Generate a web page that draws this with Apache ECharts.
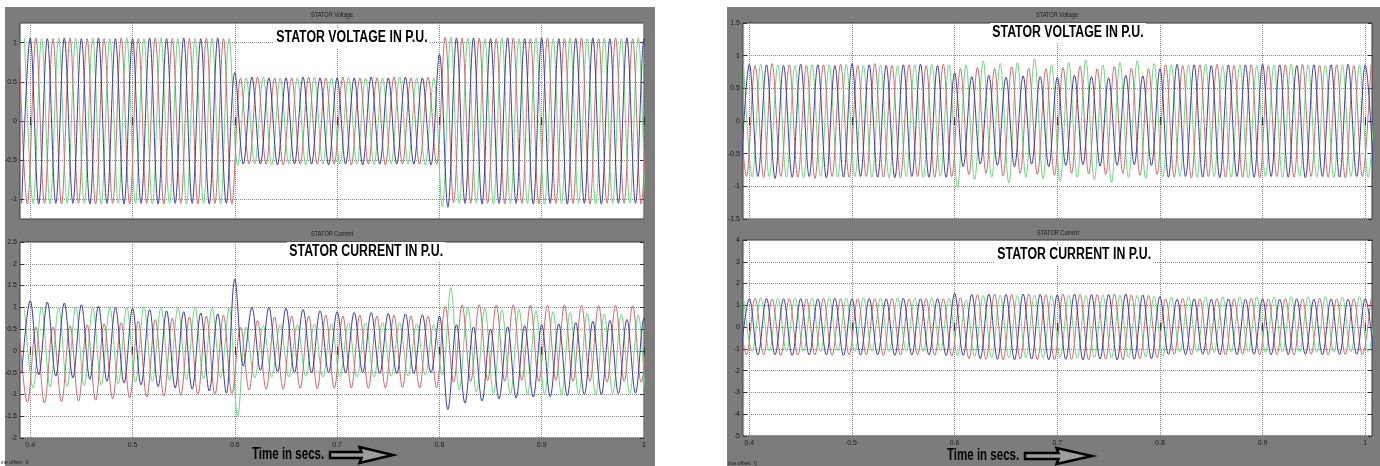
<!DOCTYPE html>
<html>
<head>
<meta charset="utf-8">
<title>Stator voltage and current</title>
<script src="https://cdn.jsdelivr.net/npm/echarts@6/dist/echarts.min.js"></script>
<style>
  html, body { margin: 0; padding: 0; background: #fff; }
  #main { width: 1380px; height: 466px; }
</style>
</head>
<body>
<div id="main"></div>
<script>
// instants (ms) of the successive phase peaks/troughs, 60 Hz scope trace
const tMs = [
  388.9, 391.7, 394.4, 397.2, 400.0, 402.8, 405.6, 408.3, 411.1,
  413.9, 416.7, 419.4, 422.2, 425.0, 427.8, 430.6, 433.3, 436.1,
  438.9, 441.7, 444.4, 447.2, 450.0, 452.8, 455.6, 458.3, 461.1,
  463.9, 466.7, 469.4, 472.2, 475.0, 477.8, 480.6, 483.3, 486.1,
  488.9, 491.7, 494.4, 497.2, 500.0, 502.8, 505.6, 508.3, 511.1,
  513.9, 516.7, 519.4, 522.2, 525.0, 527.8, 530.6, 533.3, 536.1,
  538.9, 541.7, 544.4, 547.2, 550.0, 552.8, 555.6, 558.3, 561.1,
  563.9, 566.7, 569.4, 572.2, 575.0, 577.8, 580.6, 583.3, 586.1,
  588.9, 591.7, 594.4, 597.2, 600.0, 602.8, 605.6, 608.3, 611.1,
  613.9, 616.7, 619.4, 622.2, 625.0, 627.8, 630.6, 633.3, 636.1,
  638.9, 641.7, 644.4, 647.2, 650.0, 652.8, 655.6, 658.3, 661.1,
  663.9, 666.7, 669.4, 672.2, 675.0, 677.8, 680.6, 683.3, 686.1,
  688.9, 691.7, 694.4, 697.2, 700.0, 702.8, 705.6, 708.3, 711.1,
  713.9, 716.7, 719.4, 722.2, 725.0, 727.8, 730.6, 733.3, 736.1,
  738.9, 741.7, 744.4, 747.2, 750.0, 752.8, 755.6, 758.3, 761.1,
  763.9, 766.7, 769.4, 772.2, 775.0, 777.8, 780.6, 783.3, 786.1,
  788.9, 791.7, 794.4, 797.2, 800.0, 802.8, 805.6, 808.3, 811.1,
  813.9, 816.7, 819.4, 822.2, 825.0, 827.8, 830.6, 833.3, 836.1,
  838.9, 841.7, 844.4, 847.2, 850.0, 852.8, 855.6, 858.3, 861.1,
  863.9, 866.7, 869.4, 872.2, 875.0, 877.8, 880.6, 883.3, 886.1,
  888.9, 891.7, 894.4, 897.2, 900.0, 902.8, 905.6, 908.3, 911.1,
  913.9, 916.7, 919.4, 922.2, 925.0, 927.8, 930.6, 933.3, 936.1,
  938.9, 941.7, 944.4, 947.2, 950.0, 952.8, 955.6, 958.3, 961.1,
  963.9, 966.7, 969.4, 972.2, 975.0, 977.8, 980.6, 983.3, 986.1,
  988.9, 991.7, 994.4, 997.2, 1000.0, 1002.8, 1005.6, 1008.3, 1011.1
];

const timeTicks = [0.4, 0.5, 0.6, 0.7, 0.8, 0.9, 1];
const lvTicks = [-1, -0.5, 0, 0.5, 1];
const lcTicks = [-2, -1.5, -1, -0.5, 0, 0.5, 1, 1.5, 2, 2.5];
const rvTicks = [-1.5, -1, -0.5, 0, 0.5, 1, 1.5];
const rcTicks = [-5, -4, -3, -2, -1, 0, 1, 2, 3, 4];

// left scope: stator voltage, successive peak / trough of each phase
const lvRed = [
  1.05,-1.06,1.06,-1.05,1.05,-1.06,1.06,-1.05,1.05,-1.06,1.05,-1.05,1.06,-1.06,1.05,-1.05,1.06,-1.06,1.05,-1.05,1.05,-1.06,1.06,-1.05,1.05,-1.06,
  0.55,-0.55,0.56,-0.55,0.55,-0.56,0.55,-0.55,0.56,-0.55,0.55,-0.55,0.56,-0.56,0.55,-0.55,0.55,-0.56,0.56,-0.55,0.55,-0.55,0.56,-0.55,
  1.07,-1.04,1.06,-1.05,1.06,-1.05,1.05,-1.06,1.06,-1.05,1.05,-1.06,1.06,-1.05,1.05,-1.05,1.06,-1.06,1.05,-1.05,1.06,-1.05,1.05,-1.06,1.06
];
const lvBlue = [
  -1.05,1.06,-1.06,1.05,-1.05,1.06,-1.05,1.05,-1.06,1.06,-1.05,1.05,-1.06,1.05,-1.05,1.06,-1.06,1.05,-1.05,1.06,-1.05,1.05,-1.06,1.06,-1.05,0.62,
  -0.55,0.56,-0.55,0.55,-0.56,0.55,-0.55,0.56,-0.55,0.55,-0.56,0.55,-0.55,0.55,-0.56,0.56,-0.55,0.55,-0.55,0.56,-0.55,0.55,-0.56,0.85,
  -1.1,1.06,-1.05,1.06,-1.06,1.05,-1.05,1.06,-1.05,1.05,-1.06,1.06,-1.05,1.05,-1.06,1.05,-1.05,1.06,-1.06,1.05,-1.05,1.06,-1.05,1.05,-1.06
];
const lvGreen = [
  1.06,-1.05,1.05,-1.06,1.06,-1.05,1.05,-1.05,1.06,-1.06,1.05,-1.05,1.06,-1.05,1.05,-1.06,1.06,-1.05,1.05,-1.06,1.05,-1.05,1.06,-1.06,1.05,-0.57,
  0.55,-0.55,0.56,-0.56,0.55,-0.55,0.55,-0.56,0.56,-0.55,0.55,-0.55,0.56,-0.55,0.55,-0.56,0.55,-0.55,0.56,-0.55,0.55,-0.56,0.55,-1.09,
  1.07,-1.05,1.06,-1.05,1.05,-1.06,1.06,-1.05,1.05,-1.05,1.06,-1.06,1.05,-1.05,1.06,-1.05,1.05,-1.06,1.06,-1.05,1.05,-1.05,1.06,-1.06,1.05
];

// left scope: stator current
const lcRed = [
  0.52,-1.18,0.55,-1.2,0.55,-1.17,0.58,-1.15,0.6,-1.13,0.62,-1.1,0.65,-1.08,0.68,-1.06,0.72,-1.04,0.75,-1.02,0.78,-1.0,0.8,-1.0,0.82,-0.98,
  0.55,-0.9,0.7,-0.88,0.78,-0.88,0.8,-0.86,0.8,-0.87,0.82,-0.86,0.8,-0.85,0.82,-0.86,0.8,-0.85,0.82,-0.84,0.8,-0.85,0.8,-0.84,
  1.02,-0.72,1.05,-0.7,1.06,-0.68,1.05,-0.7,1.06,-0.68,1.05,-0.7,1.05,-0.68,1.06,-0.7,1.05,-0.7,1.04,-0.72,1.05,-0.7,1.04,-0.72,1.03
];
const lcBlue = [
  -0.5,1.15,-0.55,1.12,-0.58,1.1,-0.62,1.06,-0.65,1.03,-0.7,1.0,-0.74,0.98,-0.78,0.95,-0.82,0.92,-0.85,0.9,-0.88,0.87,-0.92,0.85,-0.97,1.65,
  -0.35,1.0,-0.45,1.0,-0.48,0.98,-0.5,0.95,-0.5,0.92,-0.5,0.9,-0.5,0.88,-0.5,0.88,-0.52,0.86,-0.52,0.85,-0.52,0.83,-0.5,0.8,
  -1.35,0.6,-1.2,0.55,-1.15,0.5,-1.1,0.55,-1.08,0.58,-1.06,0.6,-1.05,0.62,-1.03,0.65,-1.0,0.68,-1.0,0.7,-0.98,0.72,-0.97,0.75,-0.95
];
const lcGreen = [
  0.95,-0.85,1.0,-0.83,1.0,-0.82,1.0,-0.8,1.0,-0.78,1.0,-0.76,1.0,-0.72,1.02,-0.7,1.0,-0.68,1.0,-0.66,1.0,-0.64,0.98,-0.62,0.98,-1.5,
  0.55,-0.62,0.58,-0.6,0.6,-0.6,0.6,-0.58,0.62,-0.6,0.62,-0.6,0.64,-0.6,0.64,-0.6,0.65,-0.58,0.65,-0.58,0.62,-0.56,0.6,-0.55,
  1.45,-0.9,1.0,-0.95,0.98,-0.98,0.95,-1.0,0.95,-1.0,0.92,-1.0,0.9,-1.0,0.88,-1.0,0.86,-1.0,0.85,-0.98,0.84,-0.98,0.83,-1.0,0.82
];

// right scope: stator voltage
const rvRed = [
  0.86,-0.85,0.85,-0.86,0.88,-0.85,0.86,-0.86,0.85,-0.88,0.86,-0.85,0.87,-0.86,0.85,-0.85,0.88,-0.86,0.85,-0.87,0.86,-0.85,0.85,-0.86,0.87,-0.85,
  0.8,-0.82,0.82,-0.8,0.8,-0.84,0.83,-0.8,0.81,-0.82,0.8,-0.83,0.82,-0.8,0.84,-0.81,0.8,-0.82,0.83,-0.8,0.81,-0.83,0.8,-0.82,
  0.86,-0.86,0.85,-0.87,0.86,-0.85,0.87,-0.86,0.85,-0.86,0.86,-0.87,0.85,-0.85,0.86,-0.86,0.87,-0.85,0.85,-0.86,0.86,-0.87,0.85,-0.85,0.86
];
const rvBlue = [
  -0.86,0.87,-0.85,0.86,-0.88,0.85,-0.86,0.87,-0.85,0.86,-0.87,0.85,-0.86,0.88,-0.85,0.86,-0.86,0.85,-0.87,0.86,-0.85,0.87,-0.86,0.85,-0.86,0.74,
  -0.7,0.68,-0.66,0.7,-0.68,0.67,-0.7,0.69,-0.66,0.68,-0.7,0.67,-0.68,0.7,-0.67,0.68,-0.69,0.66,-0.68,0.7,-0.67,0.69,-0.68,0.8,
  -0.86,0.87,-0.85,0.86,-0.86,0.85,-0.87,0.86,-0.85,0.86,-0.86,0.87,-0.85,0.86,-0.86,0.85,-0.87,0.86,-0.85,0.86,-0.86,0.87,-0.85,0.86,-0.86
];
const rvGreen = [
  0.85,-0.86,0.87,-0.85,0.86,-0.86,0.85,-0.87,0.86,-0.85,0.86,-0.86,0.87,-0.85,0.85,-0.86,0.86,-0.87,0.85,-0.85,0.86,-0.86,0.87,-0.85,0.86,-1.02,
  0.86,-0.9,0.92,-0.86,0.88,-0.95,0.9,-0.86,0.95,-0.88,0.86,-0.92,0.9,-0.86,0.93,-0.9,0.86,-0.94,0.9,-0.87,0.92,-0.88,0.88,-0.86,
  0.86,-0.85,0.86,-0.86,0.87,-0.85,0.85,-0.86,0.86,-0.87,0.85,-0.85,0.86,-0.86,0.87,-0.85,0.86,-0.86,0.85,-0.87,0.86,-0.85,0.86,-0.86,0.85
];

// right scope: stator current
const rcRed = [
  1.3,-1.28,1.32,-1.27,1.3,-1.3,1.31,-1.28,1.3,-1.27,1.32,-1.3,1.3,-1.28,1.31,-1.27,1.3,-1.3,1.32,-1.28,1.3,-1.27,1.31,-1.3,1.3,-1.32,
  1.35,-1.45,1.5,-1.48,1.52,-1.5,1.5,-1.47,1.52,-1.5,1.49,-1.5,1.52,-1.48,1.5,-1.5,1.5,-1.47,1.52,-1.5,1.48,-1.45,1.45,-1.4,
  1.3,-1.25,1.32,-1.27,1.3,-1.26,1.31,-1.28,1.3,-1.25,1.32,-1.27,1.3,-1.26,1.31,-1.28,1.3,-1.25,1.32,-1.27,1.3,-1.26,1.31,-1.28,1.3
];
const rcBlue = [
  -1.25,1.3,-1.28,1.32,-1.27,1.3,-1.3,1.31,-1.28,1.3,-1.27,1.32,-1.3,1.3,-1.28,1.31,-1.27,1.3,-1.3,1.32,-1.28,1.3,-1.27,1.31,-1.3,1.55,
  -1.3,1.5,-1.45,1.52,-1.48,1.5,-1.5,1.52,-1.47,1.5,-1.5,1.49,-1.48,1.52,-1.5,1.5,-1.47,1.5,-1.5,1.52,-1.48,1.48,-1.45,1.4,
  -1.25,1.28,-1.26,1.3,-1.25,1.28,-1.27,1.3,-1.26,1.28,-1.25,1.3,-1.27,1.28,-1.26,1.3,-1.25,1.28,-1.27,1.3,-1.26,1.28,-1.25,1.3,-1.27
];
const rcGreen = [
  1.32,-1.12,1.35,-1.1,1.33,-1.12,1.35,-1.1,1.34,-1.12,1.35,-1.1,1.33,-1.12,1.35,-1.1,1.34,-1.12,1.35,-1.1,1.33,-1.12,1.35,-1.1,1.34,-1.3,
  1.25,-1.35,1.45,-1.4,1.48,-1.42,1.45,-1.4,1.48,-1.42,1.46,-1.4,1.48,-1.42,1.45,-1.4,1.48,-1.42,1.46,-1.4,1.45,-1.38,1.42,-1.35,
  1.38,-1.15,1.4,-1.15,1.38,-1.16,1.4,-1.15,1.39,-1.15,1.4,-1.16,1.38,-1.15,1.4,-1.15,1.39,-1.16,1.4,-1.15,1.38,-1.15,1.4,-1.16,1.39
];

const RED = '#cc6a70';
const BLUE = '#3e3e9a';
const GREEN = '#6ad87c';
const FRAME = '#7c7c7c';
const SANS = "'Liberation Sans', Arial, sans-serif";

// phase offset on the peak grid: red 0, blue 1, green 2
function wave(vals, phase) {
  const out = [];
  for (let j = 0; j < vals.length; j++) {
    const k = 3 * j + phase;
    if (k < tMs.length) out.push([tMs[k] / 1000, vals[j]]);
  }
  return out;
}

const chart = echarts.init(document.getElementById('main'), null, { renderer: 'canvas' });

const panels = [
  { grid: { left: 20, top: 23, width: 624, height: 196 }, xMin: 0.39, xMax: 1.0, yMin: -1.25, yMax: 1.25, yTicks: lvTicks, xLabels: false, red: lvRed, blue: lvBlue, green: lvGreen },
  { grid: { left: 20, top: 242, width: 624, height: 196 }, xMin: 0.39, xMax: 1.0, yMin: -2, yMax: 2.5, yTicks: lcTicks, xLabels: true, red: lcRed, blue: lcBlue, green: lcGreen },
  { grid: { left: 743, top: 23, width: 629, height: 196 }, xMin: 0.3938, xMax: 1.0066, yMin: -1.5, yMax: 1.5, yTicks: rvTicks, xLabels: false, red: rvRed, blue: rvBlue, green: rvGreen },
  { grid: { left: 743, top: 240, width: 629, height: 196 }, xMin: 0.3938, xMax: 1.0066, yMin: -5, yMax: 4, yTicks: rcTicks, xLabels: true, red: rcRed, blue: rcBlue, green: rcGreen }
];

const grid = [], xAxis = [], yAxis = [], series = [];
const tickStyle = { color: '#333', width: 1 };
const gridLine = { show: true, lineStyle: { type: 'dotted', color: '#8c8c8c', width: 1 } };
const labelStyle = { fontSize: 7, color: '#1a1a1a', fontFamily: SANS };

panels.forEach((p, g) => {
  grid.push(Object.assign({
    show: true, backgroundColor: '#ffffff', borderColor: '#3a3a3a', borderWidth: 1,
    containLabel: false, outerBoundsMode: 'none'
  }, p.grid));

  xAxis.push({
    type: 'value', gridIndex: g, position: 'bottom', min: p.xMin, max: p.xMax,
    axisLine: { show: false },
    axisTick: { show: true, inside: true, length: 4, customValues: timeTicks, lineStyle: tickStyle },
    axisLabel: Object.assign({ show: p.xLabels, customValues: timeTicks, margin: 4 }, labelStyle),
    splitLine: gridLine
  });
  xAxis.push({
    type: 'value', gridIndex: g, position: 'top', min: p.xMin, max: p.xMax,
    axisLine: { show: false },
    axisTick: { show: true, inside: true, length: 4, customValues: timeTicks, lineStyle: tickStyle },
    axisLabel: { show: false, customValues: timeTicks },
    splitLine: { show: false }
  });
  yAxis.push({
    type: 'value', gridIndex: g, position: 'left', min: p.yMin, max: p.yMax,
    axisLine: { show: false },
    axisTick: { show: true, inside: true, length: 4, customValues: p.yTicks, lineStyle: tickStyle },
    axisLabel: Object.assign({ show: true, customValues: p.yTicks, margin: 3 }, labelStyle),
    splitLine: gridLine
  });
  yAxis.push({
    type: 'value', gridIndex: g, position: 'right', min: p.yMin, max: p.yMax,
    axisLine: { show: false },
    axisTick: { show: true, inside: true, length: 4, customValues: p.yTicks, lineStyle: tickStyle },
    axisLabel: { show: false, customValues: p.yTicks },
    splitLine: { show: false }
  });

  [[p.green, 2, GREEN], [p.red, 0, RED], [p.blue, 1, BLUE]].forEach(([vals, phase, color]) => {
    series.push({
      type: 'line', xAxisIndex: 2 * g, yAxisIndex: 2 * g,
      data: wave(vals, phase),
      showSymbol: false, smooth: 0.36, silent: true,
      lineStyle: { color: color, width: 1 },
      clip: true
    });
  });
});

// narrow bold captions: squeeze the sans font horizontally
function label(x, y, text, size, extra, squeeze) {
  return {
    type: 'text', x: x, y: y, z: 100, scaleX: squeeze || 1,
    style: Object.assign({
      text: text, fill: '#111', align: 'left', verticalAlign: 'middle',
      fontFamily: SANS, fontSize: size
    }, extra || {})
  };
}

function arrow(x0, x1, cy) {
  const s = x0 + (x1 - x0) * 0.5;
  return {
    type: 'polygon', z: 100,
    shape: { points: [[x0, cy - 3], [s, cy - 3], [s - 2, cy - 8], [x1, cy], [s - 2, cy + 8], [s, cy + 3], [x0, cy + 3]] },
    style: { fill: 'rgba(255,255,255,0.25)', stroke: '#000', lineWidth: 2.5 }
  };
}

const bigText = { fontWeight: 'bold', fill: '#000', backgroundColor: '#fff', padding: [2, 3] };
const smallText = { align: 'center', fill: '#1a1a1a' };

const graphic = [
  { type: 'rect', z: -10, shape: { x: 5, y: 7, width: 650, height: 459 }, style: { fill: FRAME } },
  { type: 'rect', z: -10, shape: { x: 727, y: 7, width: 653, height: 459 }, style: { fill: FRAME } },
  label(332, 15, 'STATOR Voltage', 7, smallText, 0.8),
  label(332, 234, 'STATOR Current', 7, smallText, 0.8),
  label(1057, 15, 'STATOR Voltage', 7, smallText, 0.8),
  label(1058, 233, 'STATOR Current', 7, smallText, 0.8),
  label(274, 38, 'STATOR VOLTAGE IN P.U.', 16, bigText, 0.77),
  label(287, 252, 'STATOR CURRENT IN P.U.', 16, bigText, 0.77),
  label(990, 33, 'STATOR VOLTAGE IN P.U.', 16, bigText, 0.77),
  label(995, 255, 'STATOR CURRENT IN P.U.', 16, bigText, 0.77),
  label(252, 455, 'Time in secs.', 16, { fontWeight: 'bold', fill: '#000' }, 0.72),
  label(947, 456, 'Time in secs.', 16, { fontWeight: 'bold', fill: '#000' }, 0.72),
  arrow(330, 393, 455),
  arrow(1025, 1092, 456),
  label(1, 462, 'ine offset:  0', 6, { fill: '#1a1a1a' }, 0.85),
  label(728, 463, 'ime offset:  0', 6, { fill: '#1a1a1a' }, 0.85)
];

chart.setOption({
  backgroundColor: '#ffffff',
  animation: false,
  grid: grid,
  xAxis: xAxis,
  yAxis: yAxis,
  series: series,
  graphic: graphic
});
</script>
</body>
</html>
